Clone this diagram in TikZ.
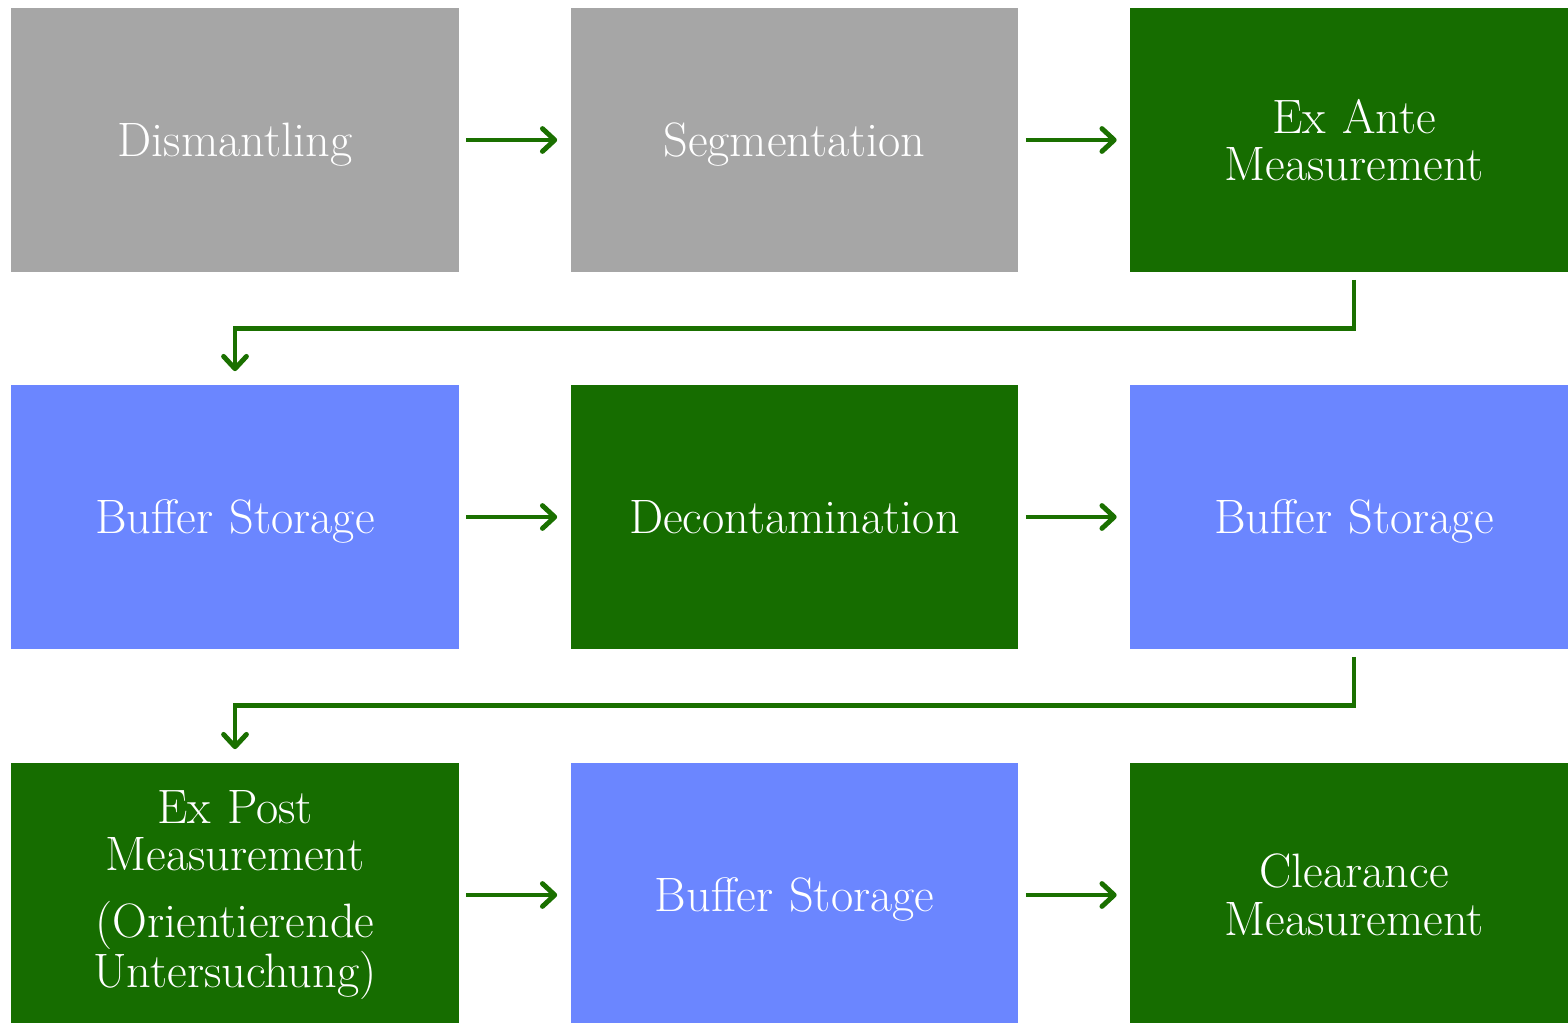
\documentclass[tikz,border=0pt]{standalone}
\usetikzlibrary{arrows.meta}

\definecolor{boxgray}{HTML}{A6A6A6}
\definecolor{boxgreen}{HTML}{166D00}
\definecolor{boxblue}{HTML}{6B86FF}
\definecolor{flowgreen}{HTML}{1A7000}

\begin{document}
\begin{tikzpicture}[x=0.02cm, y=-0.02cm,
  font=\fontsize{27.5}{27}\selectfont,
  stage/.style={minimum width=8.96cm, minimum height=5.3cm, inner sep=0pt,
    text=white, align=center, text width=8.4cm},
  one line/.style={text depth=0pt},
  grey stage/.style={stage, one line, fill=boxgray},
  green stage/.style={stage, fill=boxgreen},
  blue stage/.style={stage, one line, fill=boxblue},
  flow/.style={draw=flowgreen, line width=2.8pt,
    -{Straight Barb[length=7pt, width=13pt, line cap=round, line join=round]},
    shorten <=4pt, shorten >=7.4pt}]

\clip (0,0) rectangle (1568,1023);
\useasboundingbox (0,0) rectangle (1568,1023);

% first row
\node[grey stage] (dis) at (235,140) {Dismantling};
\node[grey stage] (seg) at (794.5,140) {Segmentation};
\node[green stage] (ante) at (1354,140) {Ex Ante\\Measurement};

% second row
\node[blue stage] (buf1) at (235,517) {Buffer Storage};
\node[green stage, one line] (deco) at (794.5,517) {Decontamination};
\node[blue stage] (buf2) at (1354,517) {Buffer Storage};

% third row
\node[green stage] (post) at (235,895) {Ex Post\\Measurement\\[11pt](Orientierende\\Untersuchung)};
\node[blue stage] (buf3) at (794.5,895) {Buffer Storage};
\node[green stage] (clear) at (1354,895) {Clearance\\Measurement};

\draw[flow] (dis) -- (seg);
\draw[flow] (seg) -- (ante);
\draw[flow] (ante.south) -- ++(0,56) -| (buf1.north);

\draw[flow] (buf1) -- (deco);
\draw[flow] (deco) -- (buf2);
\draw[flow] (buf2.south) -- ++(0,56) -| (post.north);

\draw[flow] (post) -- (buf3);
\draw[flow] (buf3) -- (clear);

\end{tikzpicture}
\end{document}
